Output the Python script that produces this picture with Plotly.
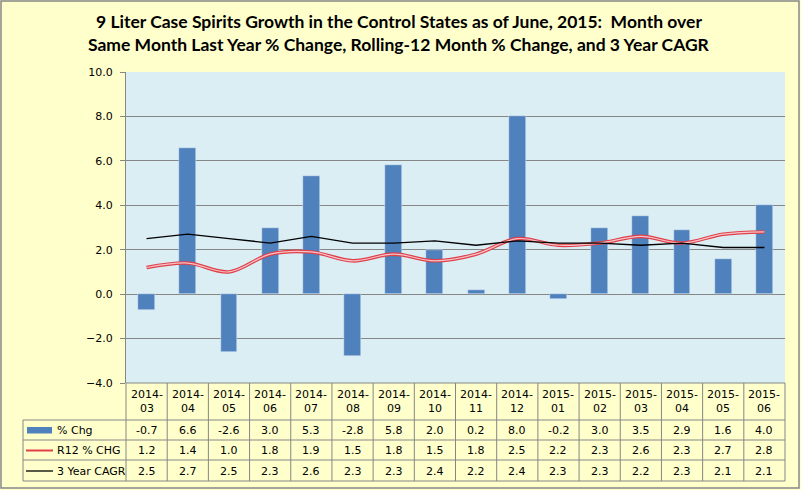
import plotly.graph_objects as go

categories = ["2014-03", "2014-04", "2014-05", "2014-06", "2014-07", "2014-08", "2014-09", "2014-10",
              "2014-11", "2014-12", "2015-01", "2015-02", "2015-03", "2015-04", "2015-05", "2015-06"]
pct_chg = [-0.7, 6.6, -2.6, 3.0, 5.3, -2.8, 5.8, 2.0, 0.2, 8.0, -0.2, 3.0, 3.5, 2.9, 1.6, 4.0]
r12_chg = [1.2, 1.4, 1.0, 1.8, 1.9, 1.5, 1.8, 1.5, 1.8, 2.5, 2.2, 2.3, 2.6, 2.3, 2.7, 2.8]
cagr3 = [2.5, 2.7, 2.5, 2.3, 2.6, 2.3, 2.3, 2.4, 2.2, 2.4, 2.3, 2.3, 2.2, 2.3, 2.1, 2.1]
series_names = ["% Chg", "R12 % CHG", "3 Year CAGR"]
title_lines = ["9 Liter Case Spirits Growth in the Control States as of June, 2015:  Month over",
               "Same Month Last Year % Change, Rolling-12 Month % Change, and 3 Year CAGR"]

W, H = 801, 490
L, R, T, B = 126, 785, 72, 383
GRAY = "#868686"
TXT = "#000000"
FONT = "DejaVu Sans"


def px(x):
    return (x - L) / (R - L)


def py(y):
    return (B - y) / (B - T)


fig = go.Figure()
fig.add_trace(go.Bar(x=categories, y=pct_chg, name=series_names[0], marker_color="#4F81BD",
                     width=0.41, showlegend=False))
fig.add_trace(go.Scatter(x=categories, y=r12_chg, mode="lines", name=series_names[1],
                         line=dict(color="#E0404A", width=3.6, shape="spline", smoothing=1.0),
                         showlegend=False))
fig.add_trace(go.Scatter(x=categories, y=r12_chg, mode="lines", name=series_names[1],
                         line=dict(color="#F6C4C8", width=1.2, shape="spline", smoothing=1.0),
                         showlegend=False))
fig.add_trace(go.Scatter(x=categories, y=cagr3, mode="lines", name=series_names[2],
                         line=dict(color="#000000", width=1.3), showlegend=False))

shapes = []
ann = []

# outer border
shapes.append(dict(type="rect", xref="paper", yref="paper", x0=px(1), x1=px(799), y0=py(1), y1=py(488),
                   line=dict(color=GRAY, width=1.5), fillcolor="rgba(0,0,0,0)", layer="below"))

n = len(categories)
colw = (R - L) / n
rows_y = [420, 440, 460, 481]
shapes.append(dict(type="line", xref="paper", yref="paper", x0=px(L), x1=px(R), y0=py(B), y1=py(B),
                   line=dict(color=GRAY, width=1)))
for yy in rows_y:
    shapes.append(dict(type="line", xref="paper", yref="paper", x0=px(23), x1=px(R), y0=py(yy), y1=py(yy),
                       line=dict(color=GRAY, width=1)))
shapes.append(dict(type="line", xref="paper", yref="paper", x0=px(23), x1=px(23), y0=py(420), y1=py(481),
                   line=dict(color=GRAY, width=1)))
for k in range(n + 1):
    xx = L + k * colw
    shapes.append(dict(type="line", xref="paper", yref="paper", x0=px(xx), x1=px(xx), y0=py(B), y1=py(481),
                       line=dict(color=GRAY, width=1)))

# legend keys
shapes.append(dict(type="rect", xref="paper", yref="paper", x0=px(27), x1=px(52), y0=py(427), y1=py(433.5),
                   fillcolor="#4F81BD", line=dict(width=0)))
shapes.append(dict(type="line", xref="paper", yref="paper", x0=px(26), x1=px(53), y0=py(450.5), y1=py(450.5),
                   line=dict(color="#E0404A", width=2)))
shapes.append(dict(type="line", xref="paper", yref="paper", x0=px(26), x1=px(53), y0=py(471), y1=py(471),
                   line=dict(color="#000000", width=1.3)))

row_centers = [430.5, 450.5, 471]
for name, yc in zip(series_names, row_centers):
    ann.append(dict(text=name, xref="paper", yref="paper", x=px(55), y=py(yc), xanchor="left", yanchor="middle",
                    showarrow=False, font=dict(family=FONT, size=11, color=TXT)))

for i, c in enumerate(categories):
    a, b = c.split("-")
    ann.append(dict(text=a + "-<br>" + b, xref="x", yref="paper", x=c, y=py(401.5), xanchor="center",
                    yanchor="middle", showarrow=False, font=dict(family=FONT, size=11, color=TXT)))
    for vals, yc in zip([pct_chg, r12_chg, cagr3], row_centers):
        ann.append(dict(text=f"{vals[i]:.1f}", xref="x", yref="paper", x=c, y=py(yc), xanchor="center",
                        yanchor="middle", showarrow=False, font=dict(family=FONT, size=11, color=TXT)))

for line, yc in zip(title_lines, [21, 44]):
    ann.append(dict(text="<b>" + line + "</b>", xref="paper", yref="paper", x=px(399), y=py(yc),
                    xanchor="center", yanchor="middle", showarrow=False,
                    font=dict(family="Lato", size=17.5, color=TXT)))

fig.update_layout(
    width=W, height=H,
    margin=dict(l=L, r=W - R, t=T, b=H - B, pad=0),
    paper_bgcolor="#FFFFCC",
    plot_bgcolor="#DBEEF4",
    bargap=0,
    shapes=shapes,
    annotations=ann,
    xaxis=dict(type="category", showticklabels=False, showgrid=False, zeroline=False, ticks="",
               range=[-0.5, n - 0.5], showline=False, fixedrange=True),
    yaxis=dict(range=[-4, 10], dtick=2, tickformat=".1f", showgrid=True, gridcolor=GRAY, gridwidth=1,
               zeroline=False, showline=True, linecolor=GRAY, linewidth=1, ticks="outside", ticklen=5,
               tickcolor=GRAY, ticklabelstandoff=5, tickfont=dict(family=FONT, size=11, color=TXT),
               fixedrange=True),
)

fig.write_html("out.html", config={"displayModeBar": False})
